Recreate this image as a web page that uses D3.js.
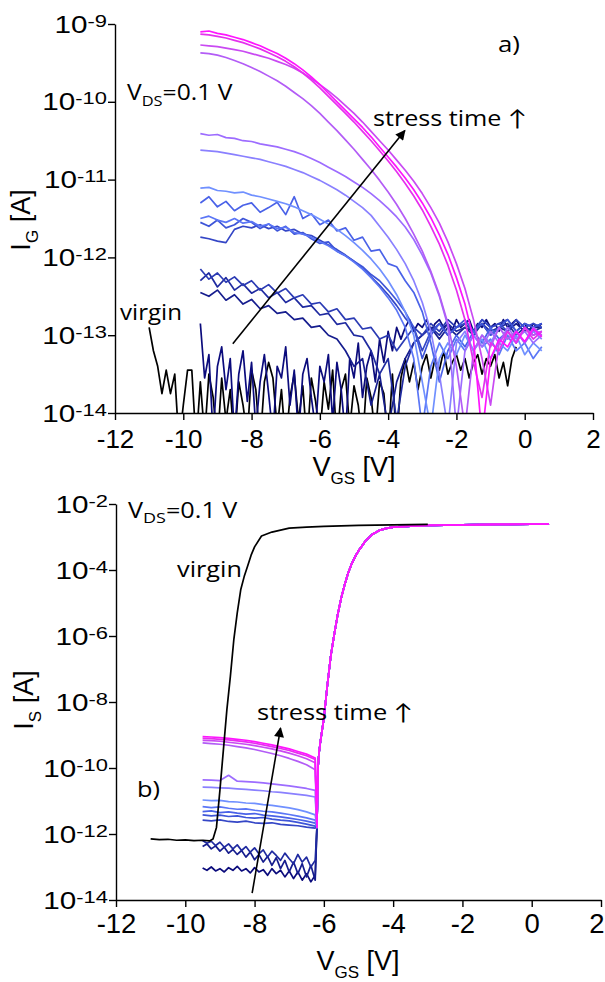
<!DOCTYPE html>
<html>
<head>
<meta charset="utf-8">
<script src="https://cdnjs.cloudflare.com/ajax/libs/d3/7.8.5/d3.min.js"></script>
<style>
  body { margin: 0; background: #fff; }
  svg { display: block; }
  .axis path, .axis line { stroke: #000; stroke-width: 1.4px; }
  .trace { fill: none; stroke-width: 1.7px; stroke-linejoin: round; }
</style>
</head>
<body>
<div id="svg-container"></div>
<script>
/* global d3 */
'use strict'

// ---- V_GS grids [V] ----
var vgsTop = [-9.5, -9.25, -9, -8.75, -8.5, -8.25, -8, -7.75, -7.5, -7.25, -7, -6.75, -6.5, -6.25,
  -6, -5.75, -5.5, -5.25, -5, -4.75, -4.5, -4.25, -4, -3.75, -3.5, -3.25, -3, -2.75, -2.5, -2.25,
  -2, -1.75, -1.5, -1.25, -1, -0.75, -0.5, -0.25, 0, 0.25, 0.5]
var vgsFineTop = [-11, -10.875, -10.75, -10.625, -10.5, -10.375, -10.25, -10.125,
  -10, -9.875, -9.75, -9.625, -9.5, -9.375, -9.25, -9.125,
  -9, -8.875, -8.75, -8.625, -8.5, -8.375, -8.25, -8.125,
  -8, -7.875, -7.75, -7.625, -7.5, -7.375, -7.25, -7.125,
  -7, -6.875, -6.75, -6.625, -6.5, -6.375, -6.25, -6.125,
  -6, -5.875, -5.75, -5.625, -5.5, -5.375, -5.25, -5.125,
  -5, -4.875, -4.75, -4.625, -4.5, -4.375, -4.25, -4.125,
  -4, -3.875, -3.75, -3.625, -3.5, -3.375, -3.25, -3.125,
  -3, -2.875, -2.75, -2.625, -2.5, -2.375, -2.25, -2.125,
  -2, -1.875, -1.75, -1.625, -1.5, -1.375, -1.25, -1.125,
  -1, -0.875, -0.75, -0.625, -0.5, -0.375, -0.25, -0.125,
  0, 0.125, 0.25, 0.375, 0.5]
var vgsOff = [-9.5, -9.25, -9, -8.75, -8.5, -8.25, -8, -7.75, -7.5, -7.25, -7, -6.75, -6.5, -6.25]
var vgsOffFine = [-9.5, -9.375, -9.25, -9.125, -9, -8.875, -8.75, -8.625, -8.5, -8.375, -8.25, -8.125,
  -8, -7.875, -7.75, -7.625, -7.5, -7.375, -7.25, -7.125, -7, -6.875, -6.75, -6.625, -6.5, -6.375, -6.25]
var vgsOn = [-6.2, -6.17, -6.14, -6.1, -6.05, -6.0, -5.95, -5.9, -5.8, -5.7, -5.6, -5.5, -5.4, -5.3,
  -5.2, -5.1, -5.0, -4.9, -4.8, -4.6, -4.4, -4.2, -4.0, -3.5, -3.0, -2.0, -1.0, 0.0, 0.5]
var vgsVirginBot = [-11, -10.75, -10.5, -10.25, -10, -9.75, -9.5, -9.3, -9.2, -9.1, -9.0, -8.9, -8.8,
  -8.7, -8.6, -8.5, -8.4, -8.3, -8.2, -8.1, -8.0, -7.8, -7.5, -7.0, -6.5, -6.0, -5.0, -4.0, -3.0]

// ---- panel a) log10(I_G / A) ----
var igVirgin = [-12.90, -13.20, -13.40, -13.75, -13.45, -13.75, -13.50, -14.40,
  -13.90, -13.45, -13.45, -14.40, -13.60, -14.30, -13.50, -13.80,
  -14.40, -13.55, -14.10, -13.70, -14.40, -13.60, -13.90, -14.30,
  -13.45, -13.70, -14.40, -13.60, -13.35, -13.55, -14.20, -13.70,
  -14.40, -13.80, -13.50, -14.10, -13.65, -14.40, -13.55, -13.85,
  -14.30, -13.60, -13.95, -13.45, -14.40, -13.70, -13.50, -14.20,
  -13.65, -13.90, -14.40, -13.55, -13.80, -14.30, -13.60, -13.75,
  -14.40, -13.50, -14.40, -13.55, -13.30, -13.60, -13.35, -13.70,
  -13.40, -13.25, -13.55, -13.30, -13.45, -13.20, -13.50, -13.35,
  -13.25, -13.45, -13.30, -13.55, -13.35, -13.25, -13.50, -13.30,
  -13.40, -13.25, -13.55, -13.35, -13.65, -13.30, -13.15]
var igD = [-12.85, -13.55, -13.25, -14.30, -13.40, -13.15, -13.70, -13.30,
  -14.30, -13.50, -13.20, -13.85, -13.35, -14.20, -13.60, -13.25,
  -13.75, -14.30, -13.40, -13.55, -13.15, -13.90, -13.45, -14.30,
  -13.50, -13.30, -13.80, -14.20, -13.40, -13.60, -13.25, -14.10,
  -13.35, -13.70, -14.30, -13.30, -13.55, -13.10, -13.80, -13.40,
  -13.20, -13.60, -13.05, -13.35, -12.95, -13.20, -12.90, -13.05,
  -12.90, -12.80, -12.95, -12.85, -12.90, -12.80, -12.95, -12.85,
  -12.80, -12.90, -12.85, -12.95, -12.80, -12.90, -12.85, -12.80,
  -12.95, -12.85, -12.90, -12.80, -12.90, -12.85, -12.95, -12.80,
  -12.90, -12.85, -12.80, -12.90, -12.85, -12.95, -12.85, -12.90, -12.85]
var igN3 = [-12.45, -12.50, -12.42, -12.55, -12.48, -12.60, -12.54, -12.66, -12.62, -12.72, -12.70,
  -12.80, -12.78, -12.90, -12.88, -13.00, -13.05, -13.20, -13.40, -13.30, -13.90, -13.50, -14.20,
  -13.60, -13.30, -13.10, -13.00, -12.90, -13.05, -12.90, -13.00, -12.90, -12.95, -12.85, -13.00,
  -12.90, -12.95, -12.85, -12.95, -12.90, -12.90]
var igN2 = [-12.30, -12.20, -12.38, -12.26, -12.42, -12.34, -12.46, -12.40, -12.52, -12.45, -12.58,
  -12.52, -12.64, -12.62, -12.74, -12.72, -12.86, -12.84, -13.00, -13.02, -13.20, -13.50, -13.30,
  -14.10, -13.40, -13.10, -13.00, -12.90, -13.00, -12.85, -12.95, -12.90, -13.00, -12.85, -12.95,
  -12.90, -12.85, -13.00, -12.90, -12.95, -12.90]
var igN1 = [-12.15, -12.28, -12.20, -12.32, -12.25, -12.36, -12.30, -12.42, -12.35, -12.46, -12.40,
  -12.52, -12.48, -12.60, -12.58, -12.70, -12.66, -12.80, -12.78, -12.92, -12.90, -13.05, -13.00,
  -13.20, -13.05, -12.90, -13.00, -12.85, -12.95, -12.80, -12.90, -12.85, -12.95, -12.80, -12.90,
  -12.85, -12.80, -12.95, -12.85, -12.90, -12.85]
var igB5 = [-11.74, -11.76, -11.79, -11.81, -11.64, -11.60, -11.62, -11.58, -11.63, -11.60, -11.66,
  -11.64, -11.70, -11.72, -11.78, -11.84, -11.90, -11.97, -12.05, -12.14, -12.25, -12.36, -12.48,
  -12.62, -12.78, -12.90, -13.20, -12.95, -12.85, -13.00, -12.90, -12.85, -12.95, -12.80, -12.90,
  -12.85, -12.95, -12.80, -12.90, -12.85, -12.90]
var igB4 = [-11.55, -11.60, -11.52, -11.62, -11.58, -11.50, -11.55, -11.63, -11.57, -11.66, -11.60,
  -11.70, -11.68, -11.76, -11.82, -11.80, -11.92, -11.98, -12.05, -12.12, -12.22, -12.30, -12.42,
  -12.55, -12.70, -12.90, -13.30, -13.00, -12.85, -13.00, -12.90, -12.80, -12.95, -12.85, -13.00,
  -12.90, -12.80, -12.95, -12.85, -12.90, -12.85]
var igB2 = [-11.30, -11.22, -11.35, -11.28, -11.40, -11.33, -11.30, -11.42, -11.36, -11.29, -11.45,
  -11.22, -11.50, -11.44, -11.58, -11.52, -11.66, -11.62, -11.78, -11.74, -11.92, -11.90, -12.08,
  -12.12, -12.30, -12.45, -12.70, -13.10, -13.60, -13.20, -13.00, -13.15, -12.95, -13.10, -12.90,
  -13.05, -12.95, -13.10, -12.90, -13.00, -12.95]
var igB3 = [-11.50, -11.47, -11.52, -11.55, -11.50, -11.56, -11.54, -11.60, -11.57, -11.63, -11.61,
  -11.68, -11.70, -11.74, -11.80, -11.85, -11.92, -11.98, -12.06, -12.15, -12.26, -12.38, -12.52,
  -12.68, -12.90, -13.30, -14.20, -13.40, -13.10, -13.30, -13.05, -13.20, -13.00, -13.15, -13.05,
  -13.25, -13.00, -13.20, -13.10, -13.30, -13.15]
var igB1 = [-11.11, -11.10, -11.14, -11.15, -11.17, -11.16, -11.20, -11.22, -11.25, -11.28, -11.31,
  -11.35, -11.40, -11.45, -11.51, -11.57, -11.64, -11.72, -11.81, -11.91, -12.02, -12.15, -12.30,
  -12.48, -12.70, -13.00, -13.60, -14.20, -13.30, -13.10, -13.25, -13.00, -13.20, -13.05, -13.30,
  -13.10, -13.20, -13.00, -13.25, -13.10, -13.20]
var igP2 = [-10.62, -10.63, -10.64, -10.66, -10.68, -10.70, -10.72, -10.74, -10.77, -10.80, -10.83,
  -10.87, -10.91, -10.96, -11.01, -11.07, -11.13, -11.20, -11.28, -11.36, -11.46, -11.60, -11.74,
  -11.90, -12.08, -12.30, -12.58, -12.95, -13.50, -14.20, -13.10, -12.95, -13.20, -13.00, -13.10,
  -12.90, -13.05, -12.95, -13.10, -12.95, -13.05]
var igP1 = [-10.41, -10.43, -10.42, -10.46, -10.47, -10.50, -10.51, -10.54, -10.56, -10.58, -10.61,
  -10.64, -10.68, -10.73, -10.78, -10.84, -10.90, -10.96, -11.03, -11.10, -11.18, -11.27, -11.37,
  -11.48, -11.61, -11.77, -11.97, -12.20, -12.50, -12.88, -14.20, -13.20, -13.00, -13.15, -12.95,
  -13.10, -12.90, -13.05, -12.95, -13.10, -13.00]
var igM4 = [-9.37, -9.38, -9.40, -9.43, -9.47, -9.51, -9.56, -9.61, -9.67, -9.73, -9.80,
  -9.88, -9.96, -10.05, -10.15, -10.26, -10.37, -10.49, -10.61, -10.74, -10.87, -11.01, -11.16,
  -11.32, -11.50, -11.70, -11.92, -12.18, -12.48, -12.85, -13.40, -14.20, -13.20, -13.00, -13.15,
  -12.90, -13.05, -12.95, -13.10, -12.90, -13.00]
var igM3 = [-9.27, -9.28, -9.29, -9.31, -9.33, -9.35, -9.38, -9.41, -9.44, -9.48, -9.52,
  -9.57, -9.63, -9.70, -9.78, -9.86, -9.95, -10.05, -10.15, -10.26, -10.38, -10.50, -10.62,
  -10.75, -10.88, -11.02, -11.18, -11.36, -11.56, -11.80, -12.08, -12.40, -12.80, -13.30, -13.90,
  -13.10, -12.95, -13.10, -12.90, -13.00, -12.95]
var igM2 = [-9.13, -9.14, -9.16, -9.18, -9.21, -9.24, -9.28, -9.32, -9.37, -9.42, -9.48,
  -9.55, -9.63, -9.72, -9.82, -9.93, -10.04, -10.15, -10.26, -10.38, -10.50, -10.63, -10.76,
  -10.90, -11.05, -11.21, -11.39, -11.60, -11.83, -12.10, -12.42, -12.80, -13.35, -13.80, -13.10,
  -13.20, -12.95, -13.10, -12.90, -13.05, -12.95]
var igM1 = [-9.10, -9.09, -9.12, -9.14, -9.17, -9.20, -9.24, -9.28, -9.33, -9.38, -9.44,
  -9.51, -9.59, -9.68, -9.78, -9.89, -10.00, -10.11, -10.22, -10.33, -10.45, -10.58, -10.71,
  -10.84, -10.98, -11.13, -11.30, -11.49, -11.71, -11.96, -12.26, -12.60, -13.05, -14.30, -13.30,
  -13.05, -13.15, -12.95, -13.08, -12.92, -13.02]

// ---- panel b) log10(I_S / A) ----
var isVirgin = [-12.15, -12.17, -12.16, -12.19, -12.18, -12.20, -12.19, -12.21, -12.15, -11.80, -10.67,
  -9.45, -8.24, -7.24, -6.12, -5.30, -4.60, -4.20, -3.88, -3.55, -3.30, -2.97, -2.85, -2.73, -2.70,
  -2.68, -2.65, -2.63, -2.62]
var isOn = [-11.80, -10.00, -9.55, -9.20, -8.85, -8.50, -8.00, -7.50, -6.60, -5.95, -5.35, -4.85, -4.45,
  -4.10, -3.82, -3.60, -3.42, -3.27, -3.12, -2.92, -2.80, -2.74, -2.70, -2.67, -2.65, -2.63, -2.62,
  -2.61, -2.61]
var isND = [-13.03, -13.10, -13.00, -13.12, -13.05, -13.15, -13.02, -13.10, -12.98, -13.12, -13.05, -13.18,
  -13.02, -13.15, -13.08, -13.25, -13.05, -13.20, -13.10, -13.30, -13.12, -13.35, -13.15, -13.40, -13.20,
  -13.45, -13.25]
var isN2 = [-12.38, -12.30, -12.45, -12.36, -12.52, -12.40, -12.58, -12.47, -12.62, -12.50, -12.70, -12.55,
  -12.78, -12.62, -12.85, -12.68, -12.95, -12.72, -13.05, -12.80, -13.15, -12.85, -13.20, -12.90, -13.30,
  -12.95, -13.40]
var isN1 = [-12.20, -12.28, -12.22, -12.35, -12.25, -12.40, -12.30, -12.45, -12.33, -12.50, -12.38, -12.55,
  -12.42, -12.60, -12.48, -12.70, -12.52, -12.65, -12.80, -12.58, -12.75, -12.90, -12.62, -12.85, -12.70,
  -13.00, -12.80]
var isB5 = [-11.58, -11.60, -11.57, -11.62, -11.64, -11.61, -11.66, -11.68, -11.66, -11.71, -11.73, -11.75, -11.79, -11.82]
var isB4 = [-11.42, -11.45, -11.43, -11.47, -11.45, -11.50, -11.52, -11.50, -11.55, -11.58, -11.60, -11.65, -11.70, -11.76]
var isB3 = [-11.32, -11.30, -11.35, -11.33, -11.37, -11.40, -11.38, -11.43, -11.45, -11.48, -11.52, -11.56, -11.61, -11.67]
var isB2 = [-11.17, -11.20, -11.18, -11.22, -11.25, -11.24, -11.28, -11.31, -11.33, -11.37, -11.41, -11.46, -11.51, -11.58]
var isB1 = [-10.97, -10.99, -10.98, -11.02, -11.03, -11.06, -11.07, -11.11, -11.13, -11.17, -11.21, -11.26, -11.33, -11.42]
var isP2 = [-10.58, -10.59, -10.60, -10.61, -10.63, -10.65, -10.67, -10.69, -10.72, -10.74, -10.77, -10.80, -10.83, -10.88]
var isP1 = [-10.36, -10.37, -10.38, -10.22, -10.40, -10.41, -10.43, -10.45, -10.48, -10.51, -10.54, -10.58, -10.62, -10.68]
var isM4 = [-9.24, -9.26, -9.28, -9.31, -9.35, -9.39, -9.44, -9.50, -9.56, -9.63, -9.71, -9.80, -9.90, -10.05]
var isM3 = [-9.16, -9.17, -9.19, -9.22, -9.25, -9.28, -9.32, -9.37, -9.42, -9.48, -9.55, -9.63, -9.72, -9.84]
var isM2 = [-9.10, -9.11, -9.13, -9.15, -9.18, -9.21, -9.25, -9.30, -9.35, -9.41, -9.47, -9.55, -9.63, -9.74]
var isM1 = [-9.05, -9.06, -9.08, -9.10, -9.13, -9.16, -9.20, -9.25, -9.30, -9.36, -9.42, -9.50, -9.58, -9.70]

// ---- axes / annotations ----
var xMajor = [-12, -10, -8, -6, -4, -2, 0, 2]
var xMinor = [-11, -9, -7, -5, -3, -1, 1]
var yMajorTop = [1e-14, 1e-13, 1e-12, 1e-11, 1e-10, 1e-9]
var yMajorBot = [1e-14, 1e-12, 1e-10, 1e-8, 1e-6, 1e-4, 1e-2]
var arrowTopV = [-8.55, -3.51]
var arrowTopLog = [-13.11, -10.37]
var arrowBotV = [-8.07, -7.25]
var arrowBotLog = [-13.79, -8.79]

var colVirgin = '#000000'
var colNavy = ['#0b0b7c', '#161d8e', '#1f2aa0', '#2b3bb4']
var colBlue = ['#3446c6', '#3e55d8', '#4a62e8', '#5b76f6', '#7090ff']
var colPurple = ['#8a80ff', '#9d6cff']
var colMagenta = ['#b35cf6', '#c94af2', '#e530ee', '#ff14ff']

var tickFont = '"Liberation Sans", Arial, sans-serif'
var noteFont = '"Open Sans", Lato, sans-serif'
var pageW = 605

var svg = d3.select('#svg-container').append('svg')
  .attr('width', pageW)
  .attr('height', 982)

function minorTicks (lo, hi) {
  var out = []
  for (var e = lo; e < hi; e++) {
    for (var k = 2; k <= 9; k++) out.push(k * Math.pow(10, e))
  }
  return out
}

function drawAxes (sx, sy, yMajor, yMinor, labelBase, labelSize) {
  var x0 = sx.range()[0]
  var y0 = sy.range()[0]

  var gx = svg.append('g').attr('class', 'axis')
    .attr('transform', 'translate(0,' + y0 + ')')
  gx.call(d3.axisBottom(sx).tickValues(xMinor).tickSize(4).tickSizeOuter(0).tickFormat(''))
  gx.call(d3.axisBottom(sx).tickValues(xMajor).tickSize(7).tickSizeOuter(0)
    .tickFormat(function (d) { return String(d) }))
  gx.attr('font-family', tickFont)
  gx.selectAll('.tick text')
    .attr('y', labelBase - y0).attr('dy', 0)
    .style('font-size', labelSize + 'px').attr('fill', '#000')
    .each(function (d) {
      // keep the last label inside the page
      var b = this.getBBox()
      var over = sx(d) + b.x + b.width - (pageW - 1)
      if (over > 0) d3.select(this).attr('x', -over)
    })

  var gy = svg.append('g').attr('class', 'axis')
    .attr('transform', 'translate(' + x0 + ',0)')
  gy.call(d3.axisLeft(sy).tickValues(yMinor).tickSize(4).tickSizeOuter(0).tickFormat(''))
  gy.call(d3.axisLeft(sy).tickValues(yMajor).tickSize(7).tickSizeOuter(0).tickFormat(''))

  // 10^n labels, slightly stretched like the original
  yMajor.forEach(function (v) {
    var t = svg.append('text')
      .attr('font-family', tickFont)
      .attr('font-size', 23)
      .attr('text-anchor', 'end')
      .attr('transform', 'translate(' + (x0 - 8) + ',' + (sy(v) + 8.5) + ') scale(1.29,1)')
    t.append('tspan').text('10')
    t.append('tspan').text(String(Math.round(Math.log10(v))))
      .attr('font-size', 17).attr('dy', -6)
  })
}

function axisTitle (x, y, main, sub, rest, rotate) {
  var t = svg.append('text')
    .attr('font-family', tickFont)
    .attr('font-size', 27)
    .attr('text-anchor', 'middle')
    .attr('transform', 'translate(' + x + ',' + y + ')' + (rotate ? ' rotate(-90)' : ''))
  t.append('tspan').text(main)
  t.append('tspan').text(sub).attr('font-size', 17).attr('dy', 8)
  t.append('tspan').text(rest).attr('dy', -8)
}

// text block stretched to the width it has in the picture
function note (parts, x, y, w, size) {
  var t = svg.append('text')
    .attr('font-family', noteFont)
    .attr('font-size', size)
    .attr('fill', '#000')
  parts.forEach(function (p) {
    t.append('tspan').text(p.t)
      .attr('font-size', p.size || size)
      .attr('dy', p.dy || 0)
  })
  var bw = t.node().getBBox().width
  t.attr('transform', 'translate(' + x + ',' + y + ') scale(' + (w / bw) + ',1)')
}

function drawTraces (traces, sx, sy, clipId) {
  var line = d3.line()
    .x(function (d) { return sx(d[0]) })
    .y(function (d) { return sy(Math.pow(10, d[1])) })

  var g = svg.append('g').attr('clip-path', 'url(#' + clipId + ')')
  g.selectAll('path').data(traces).enter().append('path')
    .attr('class', 'trace')
    .attr('d', function (d) { return line(d.pts) })
    .attr('stroke', function (d) { return d.c })
}

function arrow (sx, sy, vs, ls) {
  svg.append('line')
    .attr('x1', sx(vs[0])).attr('y1', sy(Math.pow(10, ls[0])))
    .attr('x2', sx(vs[1])).attr('y2', sy(Math.pow(10, ls[1])))
    .attr('stroke', '#000').attr('stroke-width', 1.6)
    .attr('marker-end', 'url(#head)')
}

var defs = svg.append('defs')
defs.append('marker')
  .attr('id', 'head').attr('viewBox', '0 0 10 10')
  .attr('refX', 9).attr('refY', 5)
  .attr('markerUnits', 'userSpaceOnUse')
  .attr('markerWidth', 12).attr('markerHeight', 10)
  .attr('orient', 'auto')
  .append('path').attr('d', 'M0,0L10,5L0,10Z').attr('fill', '#000')

// ================= panel a) =================
var xA = d3.scaleLinear().domain([-12, 2]).range([115, 593])
var yA = d3.scaleLog().domain([1e-14, 1e-9]).range([413, 24])

defs.append('clipPath').attr('id', 'clipA').append('rect')
  .attr('x', 115).attr('y', 0).attr('width', 490).attr('height', 413)

var tracesA = [
  { pts: d3.zip(vgsFineTop.slice(0, 87), igVirgin), c: colVirgin },
  { pts: d3.zip(vgsFineTop.slice(12), igD), c: colNavy[0] },
  { pts: d3.zip(vgsTop, igN3), c: colNavy[1] },
  { pts: d3.zip(vgsTop, igN2), c: colNavy[2] },
  { pts: d3.zip(vgsTop, igN1), c: colNavy[3] },
  { pts: d3.zip(vgsTop, igB5), c: colBlue[0] },
  { pts: d3.zip(vgsTop, igB4), c: colBlue[1] },
  { pts: d3.zip(vgsTop, igB2), c: colBlue[2] },
  { pts: d3.zip(vgsTop, igB3), c: colBlue[3] },
  { pts: d3.zip(vgsTop, igB1), c: colBlue[4] },
  { pts: d3.zip(vgsTop, igP2), c: colPurple[0] },
  { pts: d3.zip(vgsTop, igP1), c: colPurple[1] },
  { pts: d3.zip(vgsTop, igM4), c: colMagenta[0] },
  { pts: d3.zip(vgsTop, igM3), c: colMagenta[1] },
  { pts: d3.zip(vgsTop, igM2), c: colMagenta[2] },
  { pts: d3.zip(vgsTop, igM1), c: colMagenta[3] }
]
drawTraces(tracesA, xA, yA, 'clipA')
drawAxes(xA, yA, yMajorTop, minorTicks(-14, -9), 448, 26)
arrow(xA, yA, arrowTopV, arrowTopLog)

axisTitle(354, 476, 'V', 'GS', ' [V]', false)
axisTitle(30, 220, 'I', 'G', ' [A]', true)
note([{ t: 'V' }, { t: 'DS', size: 14, dy: 6 }, { t: '=0.1 V', dy: -6 }], 127, 100, 106, 21)
note([{ t: 'stress time \u2191' }], 373, 126, 154, 22)
note([{ t: 'a)' }], 498, 52, 22, 22)
note([{ t: 'virgin' }], 120, 320, 62, 21)

// ================= panel b) =================
var xB = d3.scaleLinear().domain([-12, 2]).range([116, 601])
var yB = d3.scaleLog().domain([1e-14, 1e-2]).range([900, 504])

defs.append('clipPath').attr('id', 'clipB').append('rect')
  .attr('x', 116).attr('y', 490).attr('width', 490).attr('height', 410)

function stressed (v, l, c) {
  return { pts: d3.zip(v, l).concat(d3.zip(vgsOn, isOn)), c: c }
}

var tracesB = [
  stressed(vgsOffFine, isND, colNavy[0]),
  stressed(vgsOffFine, isN2, colNavy[1]),
  stressed(vgsOffFine, isN1, colNavy[2]),
  stressed(vgsOff, isB5, colBlue[0]),
  stressed(vgsOff, isB4, colBlue[1]),
  stressed(vgsOff, isB3, colBlue[2]),
  stressed(vgsOff, isB2, colBlue[3]),
  stressed(vgsOff, isB1, colBlue[4]),
  stressed(vgsOff, isP2, colPurple[0]),
  stressed(vgsOff, isP1, colPurple[1]),
  stressed(vgsOff, isM4, colMagenta[0]),
  stressed(vgsOff, isM3, colMagenta[1]),
  stressed(vgsOff, isM2, colMagenta[2]),
  stressed(vgsOff, isM1, colMagenta[3]),
  { pts: d3.zip(vgsVirginBot, isVirgin), c: colVirgin }
]
drawTraces(tracesB, xB, yB, 'clipB')
drawAxes(xB, yB, yMajorBot, minorTicks(-14, -2).concat([1e-13, 1e-11, 1e-9, 1e-7, 1e-5, 1e-3]), 933, 27.5)
arrow(xB, yB, arrowBotV, arrowBotLog)

axisTitle(358, 970, 'V', 'GS', ' [V]', false)
axisTitle(33, 700, 'I', 'S', ' [A]', true)
note([{ t: 'V' }, { t: 'DS', size: 15, dy: 5 }, { t: '=0.1 V', dy: -5 }], 128, 518, 110, 21)
note([{ t: 'virgin' }], 177, 577, 65, 21)
note([{ t: 'stress time \u2191' }], 257, 720, 156, 22)
note([{ t: 'b)' }], 137, 797, 23, 22)
</script>
</body>
</html>
